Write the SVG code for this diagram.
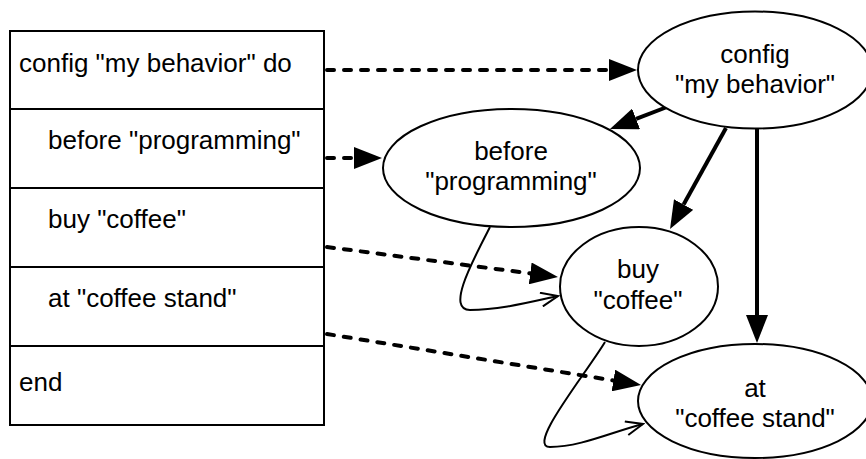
<svg xmlns="http://www.w3.org/2000/svg" width="866" height="459" viewBox="0 0 866 459">
  <style>
    text { font-family: "Liberation Sans", Arial, Helvetica, sans-serif; font-size: 26px; fill: #000; }
    .mid { text-anchor: middle; }
    .box { fill: #fff; stroke: #000; stroke-width: 2; }
    .row { stroke: #000; stroke-width: 2; }
    .node { fill: #fff; stroke: #000; stroke-width: 2; }
    .dash { fill: none; stroke: #000; stroke-width: 4; stroke-dasharray: 7 10; stroke-linecap: round; marker-end: url(#head); }
    .solid { fill: none; stroke: #000; stroke-width: 4; marker-end: url(#head); }
    .thin { fill: none; stroke: #000; stroke-width: 2; marker-end: url(#open); }
  </style>
  <defs>
    <marker id="head" markerUnits="userSpaceOnUse" viewBox="0 0 28 22" markerWidth="28" markerHeight="22" refX="0" refY="11" orient="auto">
      <path d="M0,0 L28,11 L0,22 Z" fill="#000"/>
    </marker>
    <marker id="open" markerUnits="userSpaceOnUse" viewBox="-1 -1 20 16" markerWidth="20" markerHeight="16" refX="17" refY="7" orient="auto">
      <path d="M0,0 L17,7 L0,14" fill="none" stroke="#000" stroke-width="2"/>
    </marker>
  </defs>

  <!-- source listing -->
  <g id="listing">
    <rect class="box" x="10" y="31" width="314" height="394"/>
    <line class="row" x1="10" y1="109" x2="324" y2="109"/>
    <line class="row" x1="10" y1="188" x2="324" y2="188"/>
    <line class="row" x1="10" y1="267" x2="324" y2="267"/>
    <line class="row" x1="10" y1="346" x2="324" y2="346"/>
    <text x="19" y="72">config "my behavior" do</text>
    <text x="48" y="149">before "programming"</text>
    <text x="48" y="228">buy "coffee"</text>
    <text x="48" y="307">at "coffee stand"</text>
    <text x="19" y="391">end</text>
  </g>

  <!-- connectors -->
  <g id="connectors">
    <path class="dash" d="M327,70 L609,70"/>
    <path class="dash" d="M327,158 L354,158"/>
    <path class="dash" d="M327,247 L530.2,273.4"/>
    <path class="dash" d="M327,334 L613.4,380.5"/>
    <path class="solid" d="M667,107 L636.1,118.9"/>
    <path class="solid" d="M726,128 L683.6,204.5"/>
    <path class="solid" d="M757,128 L757,315"/>
    <path class="thin" d="M490,227 C472,262 446,310 470,310 C500,310 530,302 558,296"/>
    <path class="thin" d="M605,342 C585,375 526,447 550,447 C580,447 612,432 643,424"/>
  </g>

  <g id="config">
    <ellipse class="node" cx="755" cy="70" rx="117" ry="58.5"/>
    <text class="mid" x="755" y="63">config</text>
    <text class="mid" x="755" y="93">"my behavior"</text>
  </g>
  <g id="before">
    <ellipse class="node" cx="511.5" cy="168" rx="128.5" ry="59"/>
    <text class="mid" x="511" y="160">before</text>
    <text class="mid" x="511" y="190">"programming"</text>
  </g>
  <g id="buy">
    <ellipse class="node" cx="639" cy="286.5" rx="79" ry="59.5"/>
    <text class="mid" x="638" y="278">buy</text>
    <text class="mid" x="638" y="309">"coffee"</text>
  </g>
  <g id="at">
    <ellipse class="node" cx="755" cy="401" rx="117" ry="57"/>
    <text class="mid" x="755" y="397">at</text>
    <text class="mid" x="755" y="427">"coffee stand"</text>
  </g>
</svg>
